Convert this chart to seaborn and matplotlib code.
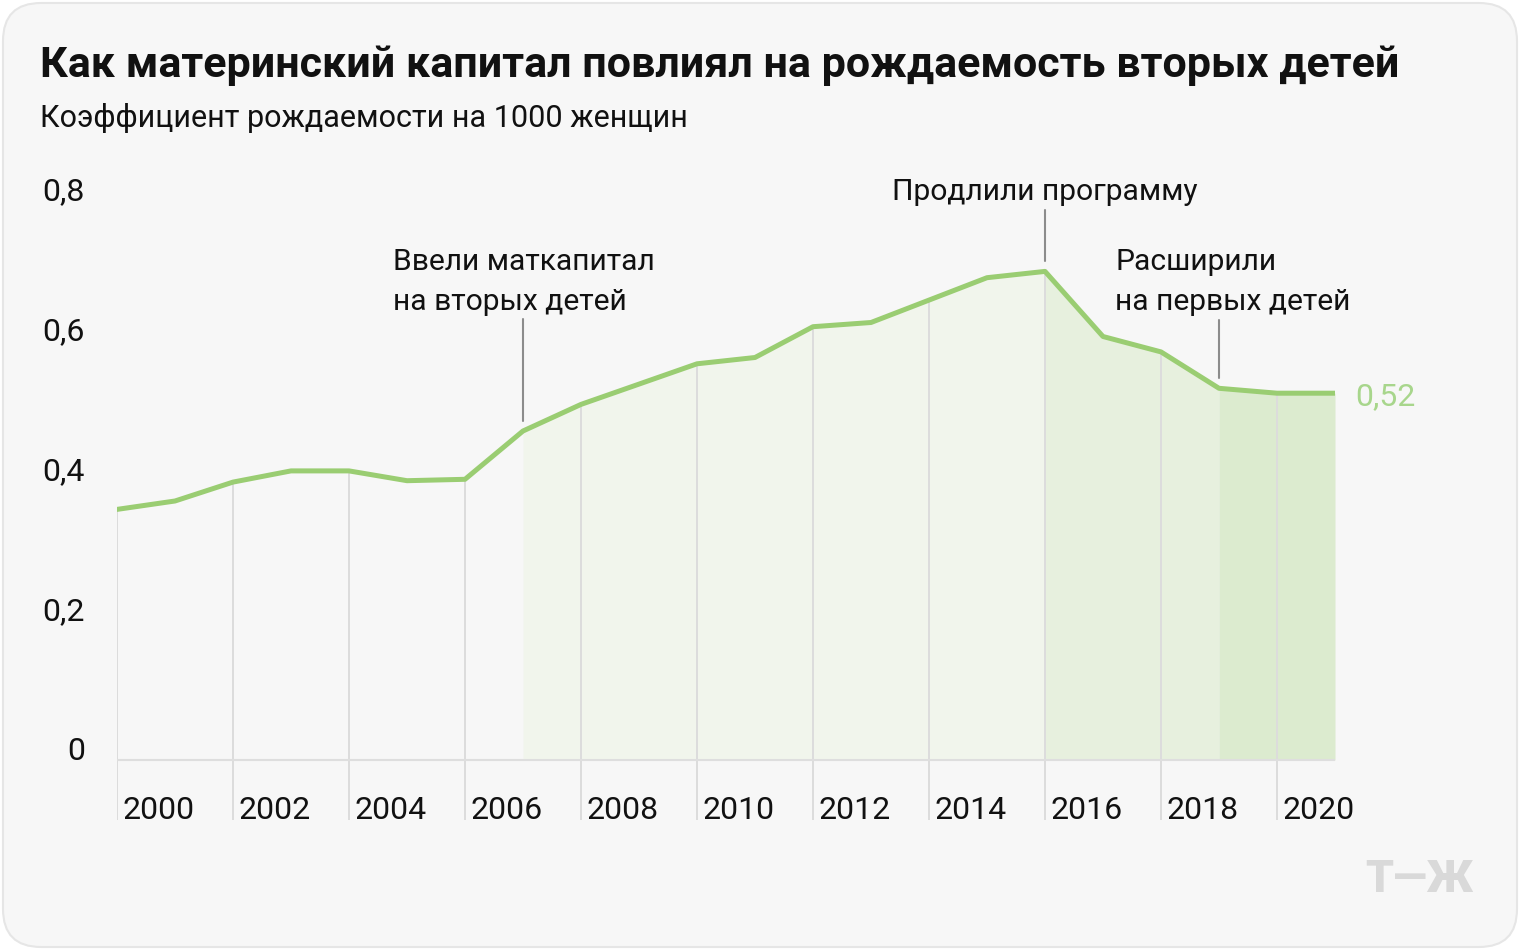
import numpy as np
import pandas as pd
import matplotlib
matplotlib.use("Agg")
import matplotlib.pyplot as plt
import seaborn as sns
from matplotlib.patches import FancyBboxPatch

# ---- data ----
years = list(range(2000, 2022))
rates = [0.358, 0.370, 0.397, 0.413, 0.413, 0.399, 0.401, 0.470, 0.508, 0.537,
         0.566, 0.575, 0.619, 0.625, 0.657, 0.689, 0.698, 0.605, 0.583, 0.531,
         0.524, 0.524]
y_ticks = [0, 0.2, 0.4, 0.6, 0.8]
y_tick_labels = ["0", "0,2", "0,4", "0,6", "0,8"]
x_tick_years = list(range(2000, 2021, 2))
period_starts = [2007, 2016, 2019]
period_ends = [2016, 2019, 2021]
period_colors = ["#f1f5ec", "#e7f0de", "#dcebcf"]
ann_years = [2007, 2016, 2019]
ann_lines = [["Ввели маткапитал", "на вторых детей"],
             ["Продлили программу"],
             ["Расширили", "на первых детей"]]
title = "Как материнский капитал повлиял на рождаемость вторых детей"
subtitle = "Коэффициент рождаемости на 1000 женщин"
last_label = "0,52"

df = pd.DataFrame({"year": years, "rate": rates})

# ---- style ----
sns.set_theme(style="white")
plt.rcParams["font.family"] = ["Roboto", "DejaVu Sans"]

W, H = 1520, 950
fig = plt.figure(figsize=(W / 100, H / 100), dpi=100, facecolor="white")

# rounded card background
card = FancyBboxPatch((3 / W, 3 / H), (W - 6) / W, (H - 6) / H,
                      boxstyle="round,pad=0,rounding_size=0.025",
                      transform=fig.transFigure, facecolor="#f7f7f7",
                      edgecolor="#e6e6e6", linewidth=1.5, zorder=-5,
                      mutation_aspect=W / H)
fig.patches.append(card)

# axes: x 2000..2021 -> px 117..1335 ; y px 840..160
ax = fig.add_axes([117 / W, (H - 840) / H, (1335 - 117) / W, 680 / H])
ax.set_zorder(5)
ax.set_facecolor("none")
ax.patch.set_visible(False)
ymin, ymax = -80 / 700, 600 / 700
ax.set_xlim(2000, 2021)
ax.set_ylim(ymin, ymax)

px = 1 / 700  # data units per pixel in y
pxx = 1 / 58  # data units per pixel in x
TICK_FS = 23
ANN_FS = 21.6

# shaded periods
for a, b, c in zip(period_starts, period_ends, period_colors):
    sub = df[(df.year >= a) & (df.year <= b)]
    ax.fill_between(sub.year, sub.rate, 0, color=c, lw=0, zorder=1)

# vertical grid lines under the curve
rate_by_year = dict(zip(years, rates))
for yr in x_tick_years:
    ax.plot([yr, yr], [-60 * px, rate_by_year[yr]], color="#dcdcdc",
            lw=1.4, zorder=2, solid_capstyle="butt")
    ax.text(yr + 5 * pxx, -59 * px, str(yr), ha="left", va="baseline",
            fontsize=TICK_FS, color="#111111")

# baseline
ax.plot([years[0], years[-1]], [0, 0], color="#dedede", lw=1.5, zorder=2)

# y labels
for v, lab in zip(y_ticks, y_tick_labels):
    ax.text(2000 - 32 * pxx, v, lab, ha="right", va="baseline",
            fontsize=TICK_FS, color="#111111")

# main line
sns.lineplot(data=df, x="year", y="rate", ax=ax, color="#9acd72", lw=3.6,
             zorder=4, legend=False)
ax.lines[-1].set_solid_joinstyle("round")

# end label
ax.text(years[-1] + 20 * pxx, rates[-1] - 12 * px, last_label, ha="left",
        va="baseline", fontsize=TICK_FS, color="#a8d68c")

# annotations
lead_tops = [319, 210, 320]
text_x_px = [393, None, 1115]
text_base_px = [[270, 310], [200], [270, 310]]
for yr, lines, top, tx, bases in zip(ann_years, ann_lines, lead_tops,
                                      text_x_px, text_base_px):
    v = rate_by_year[yr]
    ax.plot([yr, yr], [(760 - top) * px, v + 10 * px], color="#8c8c8c",
            lw=1.5, zorder=3)
    for line, bpx in zip(lines, bases):
        if tx is None:
            ax.text(yr, (760 - bpx) * px, line, ha="center", va="baseline",
                    fontsize=ANN_FS, color="#111111")
        else:
            ax.text(2000 + (tx - 117) * pxx, (760 - bpx) * px, line,
                    ha="left", va="baseline", fontsize=ANN_FS,
                    color="#111111")

ax.axis("off")

# title & subtitle
fig.text(40 / W, 1 - 77 / H, title, ha="left", va="baseline", fontsize=31,
         fontweight="bold", color="#111111")
fig.text(40 / W, 1 - 127 / H, subtitle, ha="left", va="baseline",
         fontsize=22, color="#111111")

# logo
fig.text(1419 / W, 1 - 880 / H, "Т—Ж", ha="center", va="center",
         fontsize=32, fontweight="heavy", color="#d9d9d9")

fig.savefig("out.png", dpi=100, facecolor="white")
